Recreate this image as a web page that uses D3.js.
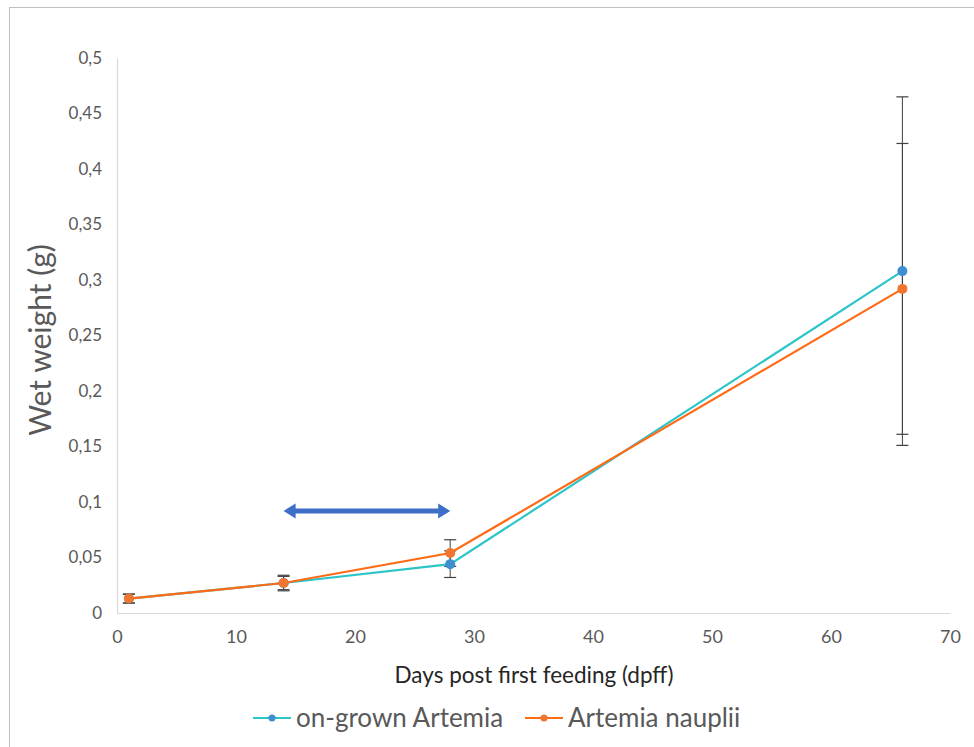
<!DOCTYPE html>
<html><head><meta charset="utf-8">
<script src="https://cdn.jsdelivr.net/npm/d3@7"></script>
<style>html,body{margin:0;padding:0;background:#fff;}svg{display:block;}</style>
</head><body>
<div id="chart"></div>
<script>
const days = [1, 14, 28, 66];
const seriesNames = ["on-grown Artemia", "Artemia nauplii"];
const ongrownValues = [0.013, 0.027, 0.044, 0.308];
const ongrownErrors = [0.004, 0.006, 0.012, 0.157];
const naupliiValues = [0.013, 0.027, 0.054, 0.292];
const naupliiErrors = [0.004, 0.007, 0.012, 0.131];
const xTicks = [0, 10, 20, 30, 40, 50, 60, 70];
const yTicks = [0, 0.05, 0.1, 0.15, 0.2, 0.25, 0.3, 0.35, 0.4, 0.45, 0.5];
const arrowDays = [14, 28];
const arrowValue = 0.092;

const W = 974, H = 747;
const svg = d3.select("#chart").append("svg").attr("width", W).attr("height", H);
const font = "Lato, 'Open Sans', sans-serif";
const textCol = "#595959";

// outer frame
svg.append("rect").attr("x", 9.5).attr("y", 7.5).attr("width", W + 10).attr("height", H + 10)
  .attr("fill", "#fff").attr("stroke", "#bfbfbf").attr("stroke-width", 1);

const x = d3.scaleLinear().domain([0, 70]).range([117, 950]);
const y = d3.scaleLinear().domain([0, 0.5]).range([613, 58]);

// axes
const xAxis = svg.append("g").attr("transform", `translate(0,${y(0)})`)
  .call(d3.axisBottom(x).tickValues(xTicks).tickSize(0).tickPadding(17).tickFormat(d3.format("d")));
xAxis.select(".domain").attr("stroke", "#d9d9d9").attr("stroke-width", 1.2);
xAxis.selectAll("text").attr("font-family", font).attr("font-size", 18).attr("fill", textCol);

const comma = d => String(d).replace(".", ",");
const yAxis = svg.append("g").attr("transform", `translate(${x(0)},0)`)
  .call(d3.axisLeft(y).tickValues(yTicks).tickSize(0).tickPadding(15).tickFormat(comma));
yAxis.select(".domain").attr("stroke", "#d9d9d9").attr("stroke-width", 1.2);
yAxis.selectAll("text").attr("font-family", font).attr("font-size", 17).attr("fill", textCol);

// axis titles
svg.append("text").attr("x", 534).attr("y", 683).attr("text-anchor", "middle")
  .attr("font-family", font).attr("font-size", 22.5).attr("fill", "#262626")
  .text("Days post first feeding (dpff)");
svg.append("text").attr("transform", "translate(51,340) rotate(-90)").attr("text-anchor", "middle")
  .attr("font-family", font).attr("font-size", 30).attr("fill", textCol)
  .text("Wet weight (g)");

const series = [
  { name: seriesNames[0], vals: ongrownValues, errs: ongrownErrors, line: "#2cc5c8", marker: "#3d8fd1" },
  { name: seriesNames[1], vals: naupliiValues, errs: naupliiErrors, line: "#ff6a17", marker: "#f07630" }
];

// error bars
series.forEach(s => {
  const g = svg.append("g");
  days.forEach((d, i) => {
    const cx = x(d), y1 = y(s.vals[i] + s.errs[i]), y2 = y(s.vals[i] - s.errs[i]);
    g.append("line").attr("x1", cx).attr("x2", cx).attr("y1", y1).attr("y2", y2)
      .attr("stroke", "#404040").attr("stroke-width", 1);
    [y1, y2].forEach(yy => g.append("line").attr("x1", cx - 6).attr("x2", cx + 6)
      .attr("y1", yy).attr("y2", yy).attr("stroke", "#404040").attr("stroke-width", 1.2));
  });
});

// lines & markers
const lineGen = d3.line().x((d, i) => x(days[i])).y(d => y(d));
series.forEach(s => {
  svg.append("path").datum(s.vals).attr("d", lineGen).attr("fill", "none")
    .attr("stroke", s.line).attr("stroke-width", 2.2);
});
series.forEach(s => {
  svg.append("g").selectAll("circle").data(s.vals).join("circle")
    .attr("cx", (d, i) => x(days[i])).attr("cy", d => y(d)).attr("r", 5)
    .attr("fill", s.marker);
});

// double arrow
const ax1 = x(arrowDays[0]), ax2 = x(arrowDays[1]), ay = y(arrowValue);
const arrowCol = "#3d6fc6";
svg.append("line").attr("x1", ax1 + 8).attr("x2", ax2 - 8).attr("y1", ay).attr("y2", ay)
  .attr("stroke", arrowCol).attr("stroke-width", 5);
svg.append("path").attr("d", `M${ax1},${ay} L${ax1 + 12},${ay - 7.5} L${ax1 + 12},${ay + 7.5} Z`).attr("fill", arrowCol);
svg.append("path").attr("d", `M${ax2},${ay} L${ax2 - 12},${ay - 7.5} L${ax2 - 12},${ay + 7.5} Z`).attr("fill", arrowCol);

// legend
const legendX = [253, 525];
series.forEach((s, i) => {
  const lx = legendX[i], ly = 718;
  svg.append("line").attr("x1", lx).attr("x2", lx + 38).attr("y1", ly).attr("y2", ly)
    .attr("stroke", s.line).attr("stroke-width", 2.2);
  svg.append("circle").attr("cx", lx + 19).attr("cy", ly).attr("r", 3.5).attr("fill", s.marker);
  svg.append("text").attr("x", lx + 43).attr("y", ly + 9).attr("font-family", font)
    .attr("font-size", 26).attr("fill", textCol).text(s.name);
});
</script>
</body></html>
